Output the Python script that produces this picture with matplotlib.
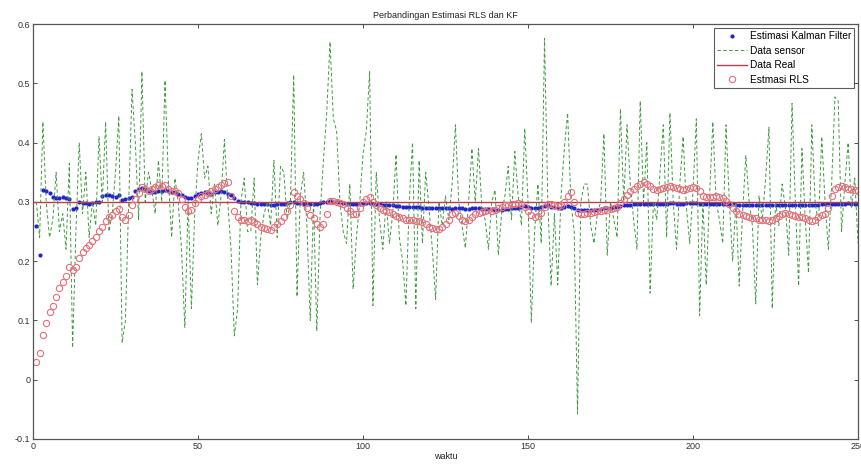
import numpy as np
import matplotlib
matplotlib.use('Agg')
import matplotlib.pyplot as plt

# data, t = 1..250
waktu = np.arange(1, 251)

data_real = 0.3

data_sensor = [
    0.30, 0.24, 0.435, 0.30, 0.24, 0.27, 0.35, 0.25, 0.28, 0.22,
    0.365, 0.054, 0.25, 0.40, 0.28, 0.35, 0.24, 0.30, 0.26, 0.41,
    0.30, 0.435, 0.25, 0.28, 0.35, 0.445, 0.062, 0.10, 0.30, 0.49,
    0.40, 0.27, 0.52, 0.30, 0.35, 0.32, 0.28, 0.37, 0.30, 0.505,
    0.34, 0.24, 0.34, 0.30, 0.22, 0.088, 0.30, 0.12, 0.28, 0.37,
    0.415, 0.34, 0.36, 0.28, 0.33, 0.26, 0.31, 0.405, 0.30, 0.22,
    0.074, 0.12, 0.30, 0.34, 0.25, 0.25, 0.34, 0.16, 0.24, 0.28,
    0.30, 0.26, 0.37, 0.24, 0.36, 0.35, 0.27, 0.30, 0.514, 0.14,
    0.31, 0.35, 0.26, 0.10, 0.30, 0.082, 0.28, 0.37, 0.45, 0.57,
    0.44, 0.42, 0.30, 0.25, 0.23, 0.33, 0.153, 0.24, 0.30, 0.38,
    0.42, 0.52, 0.125, 0.35, 0.27, 0.22, 0.30, 0.23, 0.28, 0.38,
    0.24, 0.20, 0.125, 0.30, 0.40, 0.12, 0.37, 0.23, 0.35, 0.29,
    0.22, 0.135, 0.30, 0.26, 0.31, 0.27, 0.33, 0.43, 0.30, 0.26,
    0.222, 0.30, 0.39, 0.30, 0.39, 0.29, 0.27, 0.22, 0.30, 0.32,
    0.21, 0.28, 0.31, 0.36, 0.27, 0.385, 0.31, 0.26, 0.424, 0.30,
    0.096, 0.25, 0.33, 0.23, 0.576, 0.30, 0.158, 0.28, 0.16, 0.31,
    0.39, 0.45, 0.30, 0.25, -0.058, 0.30, 0.33, 0.33, 0.26, 0.23,
    0.28, 0.30, 0.415, 0.21, 0.30, 0.27, 0.24, 0.457, 0.30, 0.43,
    0.33, 0.27, 0.22, 0.47, 0.30, 0.40, 0.146, 0.30, 0.27, 0.35,
    0.43, 0.24, 0.45, 0.30, 0.22, 0.33, 0.41, 0.29, 0.23, 0.32,
    0.44, 0.108, 0.30, 0.16, 0.31, 0.435, 0.30, 0.27, 0.23, 0.43,
    0.30, 0.20, 0.30, 0.158, 0.28, 0.378, 0.30, 0.26, 0.128, 0.31,
    0.27, 0.34, 0.426, 0.12, 0.30, 0.26, 0.33, 0.29, 0.21, 0.466,
    0.30, 0.158, 0.39, 0.27, 0.18, 0.43, 0.30, 0.26, 0.41, 0.30,
    0.22, 0.33, 0.477, 0.47, 0.25, 0.33, 0.40, 0.29, 0.34, 0.23,
]

estimasi_kf = [
    0.26, 0.21, 0.32, 0.318, 0.315, 0.308, 0.307, 0.307, 0.308, 0.306,
    0.305, 0.288, 0.289, 0.299, 0.298, 0.298, 0.297, 0.298, 0.299, 0.300,
    0.310, 0.311, 0.312, 0.310, 0.309, 0.311, 0.303, 0.305, 0.306, 0.309,
    0.318, 0.322, 0.323, 0.321, 0.318, 0.317, 0.316, 0.318, 0.319, 0.320,
    0.318, 0.317, 0.316, 0.314, 0.312, 0.309, 0.307, 0.306, 0.310, 0.313,
    0.315, 0.316, 0.315, 0.314, 0.316, 0.317, 0.318, 0.316, 0.314, 0.312,
    0.306, 0.302, 0.300, 0.299, 0.299, 0.298, 0.298, 0.297, 0.297, 0.296,
    0.296, 0.295, 0.295, 0.296, 0.297, 0.297, 0.298, 0.299, 0.300, 0.298,
    0.298, 0.297, 0.297, 0.296, 0.296, 0.297, 0.298, 0.299, 0.300, 0.301,
    0.300, 0.299, 0.299, 0.298, 0.297, 0.297, 0.296, 0.296, 0.297, 0.297,
    0.298, 0.298, 0.297, 0.296, 0.296, 0.295, 0.295, 0.294, 0.294, 0.293,
    0.293, 0.292, 0.292, 0.292, 0.291, 0.291, 0.291, 0.290, 0.290, 0.290,
    0.290, 0.289, 0.289, 0.289, 0.289, 0.289, 0.288, 0.289, 0.289, 0.289,
    0.288, 0.288, 0.289, 0.289, 0.289, 0.288, 0.288, 0.288, 0.288, 0.287,
    0.287, 0.287, 0.288, 0.288, 0.289, 0.289, 0.290, 0.292, 0.293, 0.292,
    0.290, 0.289, 0.290, 0.291, 0.293, 0.294, 0.292, 0.291, 0.290, 0.290,
    0.291, 0.293, 0.292, 0.289, 0.286, 0.286, 0.286, 0.286, 0.286, 0.286,
    0.287, 0.288, 0.289, 0.289, 0.290, 0.291, 0.292, 0.293, 0.294, 0.295,
    0.295, 0.296, 0.297, 0.297, 0.297, 0.297, 0.296, 0.296, 0.296, 0.297,
    0.297, 0.297, 0.298, 0.298, 0.297, 0.297, 0.297, 0.298, 0.298, 0.298,
    0.298, 0.297, 0.296, 0.296, 0.296, 0.297, 0.297, 0.297, 0.297, 0.297,
    0.296, 0.296, 0.295, 0.295, 0.295, 0.295, 0.295, 0.295, 0.294, 0.294,
    0.294, 0.294, 0.295, 0.294, 0.294, 0.294, 0.294, 0.294, 0.294, 0.295,
    0.295, 0.294, 0.294, 0.294, 0.294, 0.295, 0.295, 0.295, 0.296, 0.296,
    0.296, 0.297, 0.297, 0.297, 0.297, 0.297, 0.298, 0.297, 0.297, 0.297,
]

estimasi_rls = [
    0.030, 0.045, 0.075, 0.095, 0.115, 0.125, 0.140, 0.155, 0.165, 0.175,
    0.190, 0.185, 0.190, 0.205, 0.215, 0.222, 0.228, 0.234, 0.240, 0.250,
    0.257, 0.268, 0.274, 0.278, 0.285, 0.288, 0.275, 0.270, 0.278, 0.295,
    0.305, 0.315, 0.325, 0.322, 0.318, 0.322, 0.325, 0.328, 0.326, 0.328,
    0.322, 0.318, 0.318, 0.315, 0.305, 0.292, 0.285, 0.287, 0.298, 0.305,
    0.310, 0.312, 0.315, 0.318, 0.322, 0.325, 0.328, 0.332, 0.333, 0.310,
    0.285, 0.275, 0.270, 0.270, 0.268, 0.270, 0.266, 0.262, 0.258, 0.256,
    0.254, 0.253, 0.258, 0.262, 0.268, 0.275, 0.285, 0.295, 0.316, 0.310,
    0.305, 0.298, 0.290, 0.278, 0.272, 0.262, 0.257, 0.262, 0.280, 0.302,
    0.302, 0.300, 0.298, 0.296, 0.290, 0.284, 0.280, 0.280, 0.290, 0.300,
    0.305, 0.308, 0.300, 0.295, 0.290, 0.287, 0.285, 0.283, 0.280, 0.276,
    0.274, 0.272, 0.270, 0.270, 0.270, 0.268, 0.268, 0.266, 0.262, 0.258,
    0.256, 0.254, 0.254, 0.258, 0.262, 0.270, 0.280, 0.282, 0.276, 0.270,
    0.268, 0.270, 0.275, 0.280, 0.282, 0.283, 0.285, 0.286, 0.285, 0.287,
    0.290, 0.292, 0.294, 0.294, 0.296, 0.297, 0.298, 0.297, 0.292, 0.285,
    0.278, 0.275, 0.276, 0.282, 0.292, 0.297, 0.296, 0.294, 0.293, 0.295,
    0.300, 0.310, 0.316, 0.300, 0.282, 0.280, 0.280, 0.281, 0.282, 0.283,
    0.284, 0.285, 0.286, 0.287, 0.288, 0.290, 0.292, 0.298, 0.305, 0.312,
    0.318, 0.322, 0.327, 0.330, 0.333, 0.330, 0.327, 0.322, 0.320, 0.322,
    0.324, 0.325, 0.326, 0.325, 0.324, 0.322, 0.320, 0.321, 0.323, 0.325,
    0.324, 0.318, 0.310, 0.308, 0.308, 0.309, 0.310, 0.308, 0.306, 0.302,
    0.296, 0.290, 0.285, 0.280, 0.278, 0.276, 0.274, 0.273, 0.272, 0.270,
    0.270, 0.270, 0.268, 0.270, 0.272, 0.276, 0.280, 0.282, 0.280, 0.278,
    0.276, 0.274, 0.274, 0.272, 0.270, 0.268, 0.270, 0.274, 0.278, 0.280,
    0.290, 0.310, 0.322, 0.325, 0.326, 0.325, 0.322, 0.322, 0.320, 0.318,
]

xticks = [0, 50, 100, 150, 200, 250]
yticks = [-0.1, 0, 0.1, 0.2, 0.3, 0.4, 0.5, 0.6]
ytick_labels = ['-0.1', '0', '0.1', '0.2', '0.3', '0.4', '0.5', '0.6']

plt.rcParams['font.family'] = ['Liberation Sans', 'DejaVu Sans']

fig = plt.figure(figsize=(8.62, 4.68), dpi=100)
ax = fig.add_axes([0.0383, 0.062, 0.9571, 0.8867])

ax.plot(waktu, estimasi_kf, '.', color='#2222d0', markersize=4, label='Estimasi Kalman Filter')
ax.plot(waktu, data_sensor, '--', color='#3f9a3f', linewidth=0.7, dashes=(3.5, 2.5), label='Data sensor')
ax.plot([0, 250], [data_real, data_real], '-', color='#b8404a', linewidth=1.0, label='Data Real')
ax.plot(waktu, estimasi_rls, 'o', markerfacecolor='none', markeredgecolor='#e6707c',
        markeredgewidth=0.8, markersize=4.5, label='Estmasi RLS')

ax.set_xlim(0, 250)
ax.set_ylim(-0.1, 0.6)
ax.set_xticks(xticks)
ax.set_xticklabels([str(v) for v in xticks])
ax.set_yticks(yticks)
ax.set_yticklabels(ytick_labels)
ax.tick_params(direction='in', top=True, right=True, labelsize=6.5, length=3, width=0.6,
               colors='#333333', pad=2)
for s in ax.spines.values():
    s.set_color('#555555')
    s.set_linewidth(0.9)

ax.set_title('Perbandingan Estimasi RLS dan KF', fontsize=6.5, pad=4, color='#222222')
ax.set_xlabel('waktu', fontsize=6.5, labelpad=1, color='#222222')

leg = ax.legend(loc='upper right', fontsize=7.3, frameon=True, fancybox=False,
                borderaxespad=0.35, handlelength=2.9, handletextpad=0.3,
                labelspacing=0.45, borderpad=0.35)
leg.get_frame().set_edgecolor('#333333')
leg.get_frame().set_linewidth(0.8)

plt.savefig('out.png', dpi=100)
